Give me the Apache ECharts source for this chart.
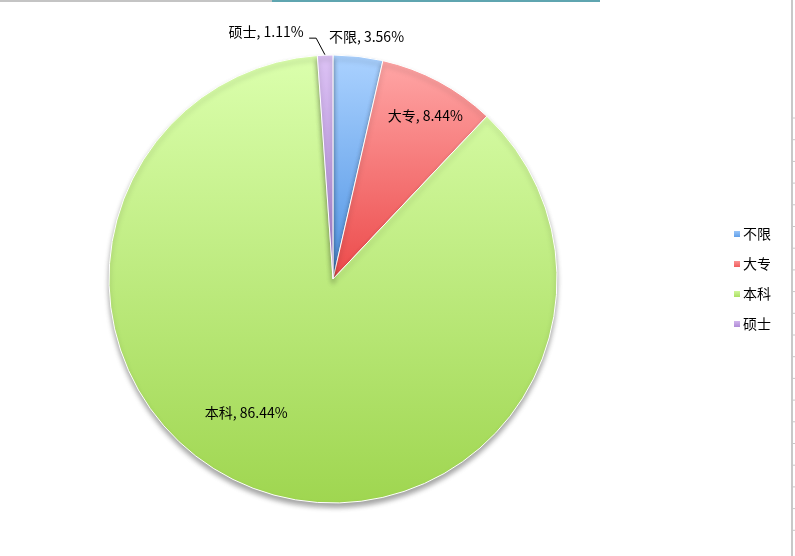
<!DOCTYPE html>
<html><head><meta charset="utf-8">
<script src="https://cdn.jsdelivr.net/npm/echarts@6/dist/echarts.min.js"></script>
<style>html,body{margin:0;padding:0;background:#fff}#c{width:795px;height:556px}</style>
</head><body><div id="c"></div>
<script>
const categories = ['不限', '大专', '本科', '硕士'];
const values = [3.56, 8.44, 86.44, 1.11];
const topColors = ['#abd2ff', '#ffa6a6', '#dbffad', '#dcc2f4'];
const bottomColors = ['#4f93e3', '#ec4a4a', '#9fd650', '#a57ecf'];
const labelShift = [[-43, -4], [38, -62], [-48, 25], [-9, -7]];

const chart = echarts.init(document.getElementById('c'));
const data = categories.map((n, i) => ({
  name: n, value: values[i],
  itemStyle: { color: new echarts.graphic.LinearGradient(0, 0, 0, 1, [
    { offset: 0, color: topColors[i] }, { offset: 1, color: bottomColors[i] }]) },
  label: { position: (i === 1 || i === 2) ? 'inside' : 'outside' },
  labelLine: { show: i === 3 }
}));

const ticks = [];
for (let k = 0; k < 20; k++) {
  const y = 118 + k * 21.7;
  ticks.push({ type: 'line', shape: { x1: 792, y1: y, x2: 795, y2: y }, style: { stroke: '#c8c8c8', lineWidth: 1 } });
}

chart.setOption({
  animation: false,
  backgroundColor: '#fff',
  graphic: [
    { type: 'rect', shape: { x: 0, y: 0, width: 272, height: 2 }, style: { fill: '#c4c4c4' } },
    { type: 'rect', shape: { x: 272, y: 0, width: 328, height: 2 }, style: { fill: '#5fa5b0' } },
    { type: 'rect', shape: { x: 791, y: 0, width: 2, height: 556 }, style: { fill: '#c8c8c8' } },
    ...ticks
  ],
  legend: {
    orient: 'vertical', left: 727, top: 220,
    itemWidth: 8, itemHeight: 8, itemGap: 12,
    icon: 'rect',
    textStyle: { fontFamily: 'Noto Sans CJK SC', fontSize: 14, color: '#000', lineHeight: 18, padding: [0, 0, 0, -3] },
    data: categories
  },
  series: [{
    type: 'pie',
    center: [333, 279],
    radius: 224,
    startAngle: 90,
    clockwise: true,
    avoidLabelOverlap: false,
    itemStyle: { borderColor: '#fff', borderWidth: 1, shadowColor: 'rgba(0,0,0,0.35)', shadowBlur: 5, shadowOffsetY: 4 },
    label: {
      formatter: '{b}, {c}%',
      color: '#000', fontSize: 14, fontFamily: 'Noto Sans CJK SC'
    },
    labelLine: { length: 16, length2: 7, lineStyle: { color: '#000', width: 1 } },
    labelLayout: function (p) {
      const s = labelShift[p.dataIndex];
      const out = { dx: s[0], dy: s[1] };
      if (p.dataIndex === 3 && p.labelLinePoints) {
        const a = p.labelLinePoints[0];
        const b = p.labelLinePoints[1];
        const mid = [a[0] - 9, b[1] - 1];
        out.labelLinePoints = [a, mid, [mid[0] - 7, mid[1]]];
      }
      return out;
    },
    emphasis: { disabled: true },
    data: data
  }]
});
</script></body></html>
